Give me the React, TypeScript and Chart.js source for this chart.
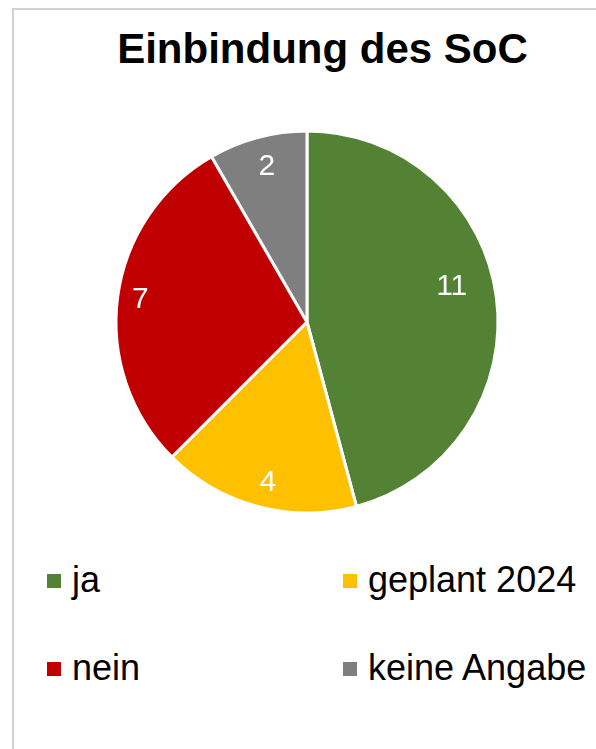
import React, { useEffect, useRef } from "react";
import { Chart, registerables } from "chart.js";

Chart.register(...registerables);

const title = "Einbindung des SoC";
const categories = ["ja", "geplant 2024", "nein", "keine Angabe"];
const counts = [11, 4, 7, 2];
const colors = ["#548235", "#FFC000", "#C00000", "#7F7F7F"];
// label placement inside each slice: fraction along the slice angle, fraction of radius
const labelAlong = [0.462, 0.478, 0.5, 0.517];
const labelRadius = [0.78, 0.868, 0.88, 0.84];

const FONT = '"Liberation Sans", Arial, Helvetica, sans-serif';

const valueLabels = {
  id: "valueLabels",
  afterDatasetsDraw(chart: any) {
    const ctx = chart.ctx;
    const meta = chart.getDatasetMeta(0);
    ctx.save();
    ctx.fillStyle = "#ffffff";
    ctx.font = `30px ${FONT}`;
    ctx.textAlign = "center";
    ctx.textBaseline = "middle";
    meta.data.forEach((arc: any, i: number) => {
      const p = arc.getProps(["x", "y", "startAngle", "endAngle", "outerRadius"], true);
      const a = p.startAngle + (p.endAngle - p.startAngle) * labelAlong[i];
      const r = p.outerRadius * labelRadius[i];
      ctx.fillText(String(counts[i]), p.x + Math.cos(a) * r, p.y + Math.sin(a) * r);
    });
    ctx.restore();
  },
};

function PieChart() {
  const ref = useRef<HTMLCanvasElement | null>(null);
  useEffect(() => {
    if (!ref.current) return;
    const chart = new Chart(ref.current, {
      type: "pie",
      data: {
        labels: categories,
        datasets: [
          {
            data: counts,
            backgroundColor: colors,
            borderColor: "#ffffff",
            borderWidth: 3,
            radius: 191,
          } as any,
        ],
      },
      options: {
        responsive: false,
        animation: false,
        devicePixelRatio: 1,
        layout: { padding: 0 },
        plugins: {
          legend: { display: false },
          title: { display: false },
          tooltip: { enabled: false },
        },
      },
      plugins: [valueLabels],
    });
    return () => chart.destroy();
  }, []);
  return (
    <canvas
      ref={ref}
      width={400}
      height={400}
      style={{ position: "absolute", left: 107, top: 122, width: 400, height: 400 }}
    />
  );
}

export default function App() {
  const legendCols = [47, 343];
  const legendRows = [561.5, 649.5];
  return (
    <div
      style={{
        position: "fixed",
        left: 0,
        top: 0,
        width: 596,
        height: 749,
        background: "#ffffff",
        overflow: "hidden",
        fontFamily: FONT,
      }}
    >
      <div
        style={{
          position: "absolute",
          left: 12,
          top: 8,
          width: 700,
          height: 800,
          border: "2px solid #d2d2d2",
          boxSizing: "border-box",
        }}
      />
      <div
        style={{
          position: "absolute",
          left: 50,
          width: 545,
          top: 27.5,
          textAlign: "center",
          fontWeight: "bold",
          fontSize: 42,
          lineHeight: "42px",
          color: "#000",
          whiteSpace: "nowrap",
        }}
      >
        {title}
      </div>
      <PieChart />
      {categories.map((c, i) => {
        const col = i % 2;
        const row = Math.floor(i / 2);
        return (
          <div
            key={c}
            style={{
              position: "absolute",
              left: legendCols[col],
              top: legendRows[row],
              height: 36,
              display: "flex",
              alignItems: "center",
              whiteSpace: "nowrap",
            }}
          >
            <span
              style={{
                display: "inline-block",
                width: 14,
                height: 14,
                background: colors[i],
                marginRight: 11,
                marginTop: 2,
              }}
            />
            <span style={{ fontSize: 36, lineHeight: "36px", color: "#000" }}>{c}</span>
          </div>
        );
      })}
    </div>
  );
}
